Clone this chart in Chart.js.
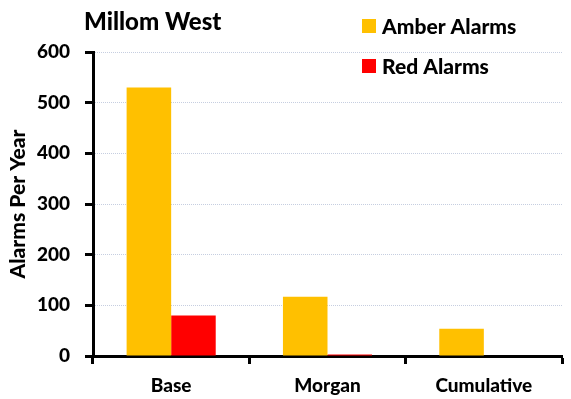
<!DOCTYPE html>
<html lang="en">
<head>
<meta charset="UTF-8">
<title>Millom West</title>
<script src="https://cdn.jsdelivr.net/npm/chart.js"></script>
<style>
    body { margin: 0; background: #fff; }
    #wrap { width: 571px; height: 399px; position: relative; }
</style>
</head>
<body>
<div id="wrap">
    <canvas id="alarmChart" width="571" height="399"></canvas>
</div>
<script>
    // chart data
    const chartTitle = 'Millom West';
    const categories = ['Base', 'Morgan', 'Cumulative'];
    const amberAlarms = [530, 117, 54];
    const redAlarms = [80, 3, 0];
    const yTicks = [0, 100, 200, 300, 400, 500, 600];

    const fontFamily = 'Lato, "Open Sans", sans-serif';
    const fontWeight = '900';

    // draws the title and the legend where the original puts them
    const headerPlugin = {
        id: 'header',
        afterDraw(chart) {
            const ctx = chart.ctx;
            ctx.save();
            ctx.fillStyle = '#000';
            ctx.textBaseline = 'middle';
            ctx.textAlign = 'left';
            ctx.font = fontWeight + ' 24px ' + fontFamily;
            ctx.fillText(chartTitle, 84, 22);

            ctx.font = fontWeight + ' 21px ' + fontFamily;
            chart.data.datasets.forEach((ds, i) => {
                const y = 26 + i * 40;
                ctx.fillStyle = ds.backgroundColor;
                ctx.fillRect(362, y - 7, 14, 14);
                ctx.fillStyle = '#000';
                ctx.fillText(ds.label, 382, y + 1);
            });
            ctx.restore();
        }
    };

    new Chart(document.getElementById('alarmChart'), {
        type: 'bar',
        data: {
            labels: categories,
            datasets: [
                { label: 'Amber Alarms', data: amberAlarms, backgroundColor: '#FFC000' },
                { label: 'Red Alarms', data: redAlarms, backgroundColor: '#FF0000' }
            ]
        },
        options: {
            responsive: false,
            animation: false,
            layout: { padding: { top: 52, right: 9, left: 6, bottom: 0 } },
            datasets: { bar: { categoryPercentage: 0.57, barPercentage: 1.0 } },
            plugins: {
                legend: { display: false },
                title: { display: false },
                tooltip: { enabled: false }
            },
            scales: {
                x: {
                    offset: true,
                    grid: {
                        offset: true,
                        color: 'transparent',
                        tickColor: '#000',
                        tickWidth: 3,
                        tickLength: 8
                    },
                    border: { color: '#000', width: 3 },
                    ticks: {
                        color: '#000',
                        padding: 10,
                        font: { family: fontFamily, size: 19, weight: fontWeight }
                    },
                    afterFit(scale) { scale.height = 43; }
                },
                y: {
                    min: 0,
                    max: 600,
                    afterBuildTicks(scale) { scale.ticks = yTicks.map(v => ({ value: v })); },
                    grid: {
                        color: '#c6cee0',
                        lineWidth: 1,
                        tickColor: '#000',
                        tickWidth: 3,
                        tickLength: 8
                    },
                    border: { color: '#000', width: 3, dash: [1, 1] },
                    ticks: {
                        color: '#000',
                        padding: 15,
                        font: { family: fontFamily, size: 19, weight: fontWeight }
                    },
                    title: {
                        display: true,
                        text: 'Alarms Per Year',
                        color: '#000',
                        padding: 0,
                        font: { family: fontFamily, size: 21, weight: fontWeight }
                    },
                    afterFit(scale) { scale.width = 87; }
                }
            }
        },
        plugins: [headerPlugin]
    });
</script>
</body>
</html>
